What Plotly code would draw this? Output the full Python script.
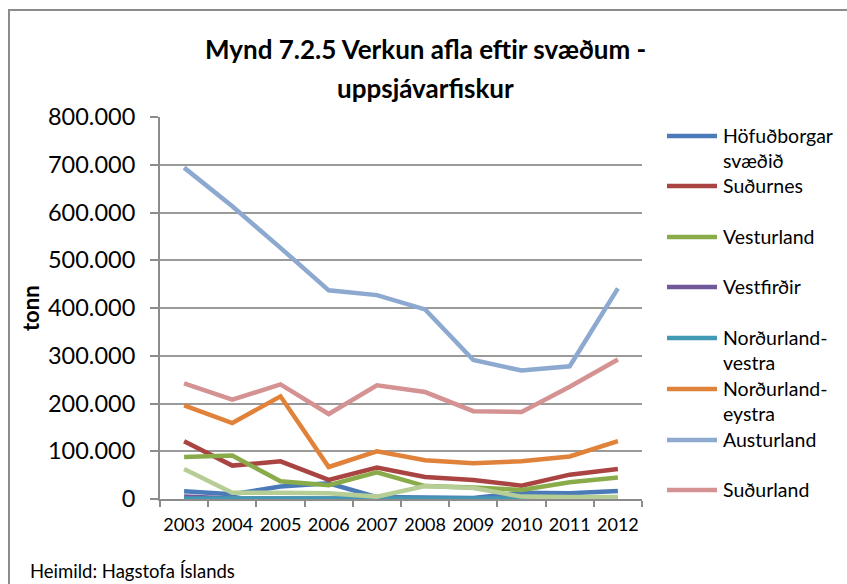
import plotly.graph_objects as go

# Years on the category axis
years = ["2003", "2004", "2005", "2006", "2007", "2008", "2009", "2010", "2011", "2012"]

# Processed catch by region (tonnes)
hofudborgarsvaedid = [16000, 10000, 26000, 33000, 4000, 2000, 2000, 13000, 12000, 17000]
sudurnes = [121000, 70000, 79000, 40000, 66000, 46000, 40000, 28000, 51000, 63000]
vesturland = [88000, 91000, 37000, 29000, 56000, 27000, 24000, 19000, 35000, 45000]
vestfirdir = [5000, 1000, 1000, 1000, 1000, 500, 500, 500, 500, 500]
nordurland_vestra = [1000, 1000, 1000, 1000, 1000, 1000, 1000, 1000, 1000, 1000]
nordurland_eystra = [196000, 159000, 215000, 67000, 100000, 81000, 75000, 79000, 89000, 121000]
austurland = [694000, 613000, 526000, 437000, 427000, 397000, 291000, 269000, 278000, 441000]
sudurland = [242000, 208000, 240000, 178000, 238000, 224000, 184000, 182000, 235000, 292000]
annad = [63000, 13000, 13000, 12000, 5000, 27000, 23000, 5000, 4000, 4000]

series = [
    ("Höfuðborgar<br>svæðið", hofudborgarsvaedid, "#4A7AB8", True),
    ("Suðurnes", sudurnes, "#A94442", True),
    ("Vesturland", vesturland, "#8AAB4A", True),
    ("Vestfirðir", vestfirdir, "#71589A", True),
    ("Norðurland-<br>vestra", nordurland_vestra, "#4199B4", True),
    ("Norðurland-<br>eystra", nordurland_eystra, "#E0823A", True),
    ("Austurland", austurland, "#8DA9D0", True),
    ("Suðurland", sudurland, "#D49292", True),
    ("Annað", annad, "#B6CE96", False),
]

W, H = 847, 584
L, R, T, B = 160, 642, 117, 499  # plot area in pixels


def px(x):
    return (x - L) / (R - L)


def py(y):
    return (B - y) / (B - T)


FONT = "Lato, 'Open Sans', sans-serif"

fig = go.Figure()
for name, vals, color, _ in series:
    fig.add_trace(go.Scatter(
        x=years, y=vals, mode="lines", name=name.replace("<br>", " "),
        line=dict(color=color, width=4.5), showlegend=False,
    ))

shapes = []
annotations = []

# Legend drawn as line samples and labels beside the plot
legend_y = [136, 186, 237, 287, 338, 389, 440, 490]
legend_items = [s for s in series if s[3]]
for (name, _, color, _), ly in zip(legend_items, legend_y):
    shapes.append(dict(type="line", xref="paper", yref="paper",
                       x0=px(667), x1=px(717), y0=py(ly), y1=py(ly),
                       line=dict(color=color, width=4.5)))
    annotations.append(dict(xref="paper", yref="paper", x=px(721), y=py(ly - 14),
                            xanchor="left", yanchor="top", align="left",
                            text=name, showarrow=False,
                            font=dict(family=FONT, size=19.5, color="#000")))

# Chart frame
shapes.append(dict(type="rect", xref="paper", yref="paper",
                   x0=px(9), x1=px(860), y0=py(10), y1=py(600),
                   line=dict(color="#8C8C8C", width=2), layer="below"))

# Title
annotations.append(dict(xref="paper", yref="paper", x=px(425), y=py(49),
                        xanchor="center", yanchor="middle",
                        text="<b>Mynd 7.2.5 Verkun afla eftir svæðum -</b>",
                        showarrow=False, font=dict(family=FONT, size=26, color="#000")))
annotations.append(dict(xref="paper", yref="paper", x=px(425), y=py(88),
                        xanchor="center", yanchor="middle",
                        text="<b>uppsjávarfiskur</b>",
                        showarrow=False, font=dict(family=FONT, size=26, color="#000")))
# Axis title
annotations.append(dict(xref="paper", yref="paper", x=px(30), y=py(308),
                        xanchor="center", yanchor="middle", textangle=-90,
                        text="<b>tonn</b>", showarrow=False,
                        font=dict(family=FONT, size=22, color="#000")))
# Source
annotations.append(dict(xref="paper", yref="paper", x=px(28), y=py(571),
                        xanchor="left", yanchor="middle",
                        text="Heimild: Hagstofa Íslands", showarrow=False,
                        font=dict(family=FONT, size=18.5, color="#000")))

tickvals = [0, 100000, 200000, 300000, 400000, 500000, 600000, 700000, 800000]
ticktext = ["0"] + [f"{v // 1000}.000" for v in tickvals[1:]]

fig.update_layout(
    width=W, height=H,
    margin=dict(l=L, r=W - R, t=T, b=H - B, pad=0),
    paper_bgcolor="white", plot_bgcolor="white",
    shapes=shapes, annotations=annotations,
    xaxis=dict(type="category", range=[-0.5, 9.5], showgrid=False, showline=True,
               linecolor="#8C8C8C", linewidth=2, ticks="outside",
               tickson="boundaries", ticklen=6, tickcolor="#8C8C8C",
               tickwidth=2, ticklabelstandoff=8, tickangle=0,
               tickfont=dict(family=FONT, size=18, color="#000")),
    yaxis=dict(range=[0, 800000], tickvals=tickvals, ticktext=ticktext,
               showgrid=True, gridcolor="#9A9A9A", gridwidth=2,
               showline=True, linecolor="#8C8C8C", linewidth=2,
               ticks="outside", ticklen=8, tickcolor="#8C8C8C", tickwidth=2,
               zeroline=False, ticklabelstandoff=10,
               tickfont=dict(family=FONT, size=23.5, color="#000")),
    font=dict(family=FONT),
)

fig.write_html("out.html")
